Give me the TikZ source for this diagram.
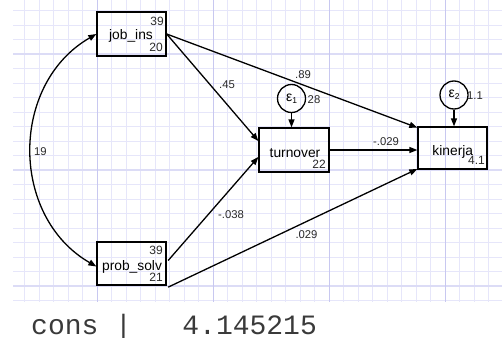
\documentclass[tikz,border=0pt]{standalone}
\usepackage{fontspec}
\setmainfont{Liberation Sans}
\newfontfamily\monofont{Liberation Mono}
\usetikzlibrary{arrows.meta,calc}
\definecolor{gridminor}{HTML}{E6E6FA}
\definecolor{gridmajv}{HTML}{C8C8F0}
\definecolor{gridmajh}{HTML}{DCDCF6}
\definecolor{numgray}{HTML}{2A2A2A}
\definecolor{consgray}{HTML}{3A3A3A}
\begin{document}
\begin{tikzpicture}[x=1pt,y=-1pt,
 box/.style={draw=black,line width=1.3pt,minimum width=69pt,minimum height=44pt,inner sep=0pt},
 err/.style={draw=black,line width=1.3pt,circle,minimum size=28pt,inner sep=0pt},
 tip/.tip={Triangle[length=8pt,width=6pt]},
 pathline/.style={line width=1.3pt,-tip},
 lab/.style={font=\fontsize{13.8}{14}\selectfont,text=black,anchor=base,inner sep=0pt},
 num/.style={font=\fontsize{12}{12}\selectfont,text=numgray,anchor=base east,inner sep=0pt},
 coef/.style={font=\fontsize{11.3}{12}\selectfont,text=numgray,inner sep=0pt},
 minorline/.style={draw=gridminor,line width=0.9pt},
]
\useasboundingbox (0,0) rectangle (502,337);
\fill[white] (0,0) rectangle (502,337);
% grid
\foreach \k in {-5,...,27} \draw[minorline] ({97+14.5*\k},0) -- ({97+14.5*\k},302);
\foreach \k in {-3,...,17} \draw[minorline] (13,{54.3+14.5*\k}) -- (502,{54.3+14.5*\k});
\foreach \k in {0,8,16} \draw[draw=gridmajh,line width=1.8pt] (13,{54.3+14.5*\k}) -- (502,{54.3+14.5*\k});
\foreach \k in {0,8,16,24} \draw[draw=gridmajv,line width=1pt] ({97+14.5*\k},0) -- ({97+14.5*\k},302);

% boxes
\node[box] (ji) at (131.5,34) {};
\node[box,minimum height=43pt] (ps) at (131.5,263.5) {};
\node[box,minimum width=70pt] (tv) at (294,150) {};
\node[box,minimum height=42pt] (kn) at (452.5,148) {};
\node[err] (e1) at (291.5,98.5) {};
\node[err] (e2) at (454,95) {};

% box texts
\node[lab] (jiL) at (131,39.5) {job\_ins};
\node[lab] (psL) at (132,270.7) {prob\_solv};
\node[lab] (tvL) at (295,157.3) {turnover};
\node[lab] (knL) at (452.8,155) {kinerja};
\node[num] (ji1) at (164,26) {39};
\node[num] (ji2) at (163,51.7) {20};
\node[num] (ps1) at (163,254) {39};
\node[num] (ps2) at (163,281.7) {21};
\node[num] (tv1) at (326,168.3) {22};
\node[num] (kn1) at (485,164.3) {4.1};
\node[inner sep=0pt,text=black] (e1L) at (e1) {\fontsize{14}{14}\selectfont ε\raisebox{-2pt}{\fontsize{8.5}{8.5}\selectfont 1}};
\node[inner sep=0pt,text=black] (e2L) at (e2) {\fontsize{14}{14}\selectfont ε\raisebox{-2pt}{\fontsize{8.5}{8.5}\selectfont 2}};

% paths
\draw[pathline] (ji.east) -- ($(tv.west)+(0,-9)$);
\draw[pathline] (ji.east) -- ($(kn.north west)+(0,1.3)$);
\draw[pathline] ($(ps.east)+(1.5,-3)$) -- ($(tv.west)+(0,7)$);
\draw[pathline] ($(ps.south east)+(1.5,1.5)$) -- ($(kn.south west)+(0,-0.7)$);
\draw[pathline] (tv.east) -- (tv.east -| kn.west);
\draw[pathline] (e1.south) -- (e1.south |- tv.north);
\draw[pathline] (e2.south) -- (e2.south |- kn.north);
\draw[line width=1.3pt,tip-tip] (ji.west) .. controls +(-86.6,50) and +(-86.6,-50) .. ($(ps.west)+(0,3)$);

% coefficients
\node[coef] (c1) at (227,85) {.45};
\node[coef] (c2) at (303,74.5) {.89};
\node[coef] (c3) at (386,141.5) {-.029};
\node[coef] (c4) at (231,214.5) {-.038};
\node[coef] (c5) at (306.5,234.5) {.029};
\node[coef] (c6) at (40.5,152) {19};
\node[coef] (c7) at (314,100) {28};
\node[coef] (c8) at (475,96) {1.1};

% bottom text
\node[anchor=base west,inner sep=0pt,text=consgray,font=\monofont\fontsize{28}{28}\selectfont] (cons) at (31,334) {cons\ |\ \ \ 4.145215};
\end{tikzpicture}
\end{document}
